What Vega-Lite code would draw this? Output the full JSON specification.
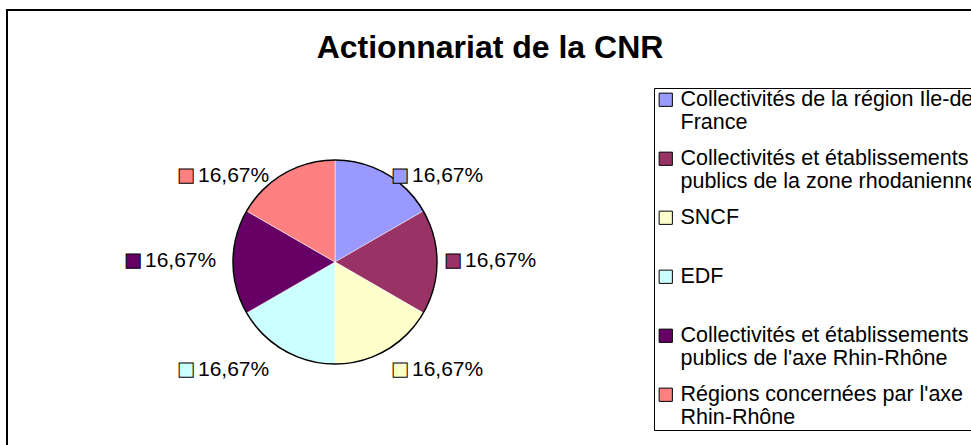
{
  "$schema": "https://vega.github.io/schema/vega-lite/v6.json",
  "autosize": {"type": "none"},
  "padding": {"left": 7, "top": 10, "right": 0, "bottom": 0},
  "width": 1000,
  "height": 500,
  "background": "white",
  "title": {
    "text": "Actionnariat de la CNR",
    "font": "Liberation Sans",
    "fontSize": 32,
    "fontWeight": "bold",
    "color": "black",
    "anchor": "middle",
    "baseline": "alphabetic",
    "dx": -17,
    "dy": 32,
    "offset": -51
  },
  "data": {
    "values": [
      {"ordre": 1, "nom": "Collectivités de la région Ile-de-France", "part": 0.1667},
      {"ordre": 2, "nom": "Collectivités et établissements publics de la zone rhodanienne", "part": 0.1667},
      {"ordre": 3, "nom": "SNCF", "part": 0.1667},
      {"ordre": 4, "nom": "EDF", "part": 0.1667},
      {"ordre": 5, "nom": "Collectivités et établissements publics de l'axe Rhin-Rhône", "part": 0.1667},
      {"ordre": 6, "nom": "Régions concernées par l'axe Rhin-Rhône", "part": 0.1667}
    ]
  },
  "layer": [
    {
      "mark": {"type": "point", "opacity": 0},
      "encoding": {
        "x": {"field": "ordre", "type": "quantitative", "axis": null},
        "y": {"field": "ordre", "type": "quantitative", "axis": null}
      }
    },
    {
      "mark": {"type": "arc", "x": 328, "y": 252, "outerRadius": 102, "stroke": "white", "strokeWidth": 0.5},
      "encoding": {
        "theta": {"field": "part", "type": "quantitative", "stack": true},
        "order": {"field": "ordre", "type": "quantitative"},
        "color": {
          "field": "nom",
          "type": "nominal",
          "sort": null,
          "scale": {
            "domain": [
              "Collectivités de la région Ile-de-France",
              "Collectivités et établissements publics de la zone rhodanienne",
              "SNCF",
              "EDF",
              "Collectivités et établissements publics de l'axe Rhin-Rhône",
              "Régions concernées par l'axe Rhin-Rhône"
            ],
            "range": ["#9999FF", "#993366", "#FFFFCC", "#CCFFFF", "#660066", "#FF8080"]
          },
          "legend": {
            "title": null,
            "orient": "none",
            "legendX": 647,
            "legendY": 78,
            "symbolType": "square",
            "symbolSize": 175,
            "symbolStrokeColor": "black",
            "symbolStrokeWidth": 1,
            "labelFont": "Liberation Sans",
            "labelFontSize": 21.5,
            "labelColor": "black",
            "labelLimit": 2000,
            "labelOffset": 4,
            "strokeColor": "black",
            "fillColor": "white",
            "padding": 1,
            "gridAlign": "all",
            "rowPadding": 13,
            "labelExpr": "split(replace(replace(replace(datum.label, 'Ile-de-', 'Ile-de|'), 'ments ', 'ments|'), \"par l'axe \", \"par l'axe|\"), '|')"
          }
        }
      }
    },
    {
      "transform": [{"aggregate": [{"op": "sum", "field": "part", "as": "total"}]}],
      "mark": {"type": "arc", "x": 328, "y": 252, "outerRadius": 102, "fill": "transparent", "stroke": "black", "strokeWidth": 1.5},
      "encoding": {
        "theta": {"field": "total", "type": "quantitative"}
      }
    },
    {
      "mark": {
        "type": "text",
        "x": 328, "y": 252,
        "radius": 106,
        "text": "■",
        "font": "Liberation Sans",
        "fontSize": 29,
        "align": "center",
        "baseline": "middle",
        "stroke": "black",
        "strokeWidth": 1,
        "dx": {"expr": "datum.ordre <= 3 ? 12 : -96"},
        "dy": {"expr": "datum.ordre == 2 || datum.ordre == 5 ? -1 : (datum.ordre == 3 || datum.ordre == 4 ? 16 : 6)"}
      },
      "encoding": {
        "theta": {"field": "part", "type": "quantitative", "stack": true},
        "order": {"field": "ordre", "type": "quantitative"},
        "color": {"field": "nom", "type": "nominal", "sort": null}
      }
    },
    {
      "mark": {
        "type": "text",
        "x": 328, "y": 252,
        "radius": 106,
        "font": "Liberation Sans",
        "fontSize": 21,
        "align": "left",
        "baseline": "middle",
        "color": "black",
        "dx": {"expr": "datum.ordre <= 3 ? 24 : -84"},
        "dy": {"expr": "datum.ordre == 2 || datum.ordre == 5 ? -1 : (datum.ordre == 3 || datum.ordre == 4 ? 16 : 6)"}
      },
      "encoding": {
        "theta": {"field": "part", "type": "quantitative", "stack": true},
        "order": {"field": "ordre", "type": "quantitative"},
        "detail": {"field": "nom", "type": "nominal"},
        "text": {"field": "part", "type": "quantitative", "format": ".2%"}
      }
    }
  ],
  "config": {
    "locale": {"number": {"decimal": ",", "thousands": " ", "grouping": [3], "currency": ["", " €"]}},
    "view": {"stroke": "black", "strokeWidth": 2, "fill": "white"}
  }
}
